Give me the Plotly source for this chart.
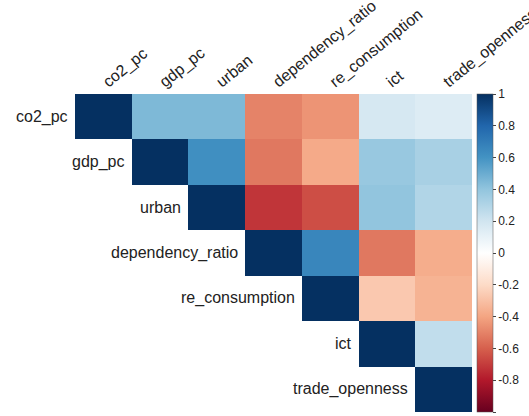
import plotly.graph_objects as go

variables = ["co2_pc", "gdp_pc", "urban", "dependency_ratio", "re_consumption", "ict", "trade_openness"]

# upper-triangle correlations (row i, columns i..6)
row_co2 = [1.00, 0.45, 0.45, -0.50, -0.45, 0.18, 0.15]
row_gdp = [1.00, 0.62, -0.53, -0.38, 0.38, 0.33]
row_urban = [1.00, -0.72, -0.65, 0.40, 0.30]
row_dep = [1.00, 0.66, -0.53, -0.37]
row_re = [1.00, -0.27, -0.35]
row_ict = [1.00, 0.25]
row_trade = [1.00]

rows = [row_co2, row_gdp, row_urban, row_dep, row_re, row_ict, row_trade]
n = len(variables)
z = []
for i, r in enumerate(rows):
    z.append([None] * i + r)

cb_colors = ["#67001F", "#B2182B", "#D6604D", "#F4A582", "#FDDBC7", "#FFFFFF",
             "#D1E5F0", "#92C5DE", "#4393C3", "#2166AC", "#053061"]
colorscale = [[k / (len(cb_colors) - 1), c] for k, c in enumerate(cb_colors)]
cb_ticks = [1, 0.8, 0.6, 0.4, 0.2, 0, -0.2, -0.4, -0.6, -0.8, -1]

fig = go.Figure(go.Heatmap(
    z=z, x=variables, y=variables,
    zmin=-1, zmax=1, colorscale=colorscale,
    xgap=0, ygap=0, hoverongaps=False,
    colorbar=dict(
        x=1.013, xanchor="left", xref="paper", xpad=0, ypad=0,
        y=1.0, yanchor="top", lenmode="fraction", len=1.0,
        thickness=16, outlinewidth=0.5, outlinecolor="#555",
        tickvals=cb_ticks, ticktext=[f"{t:g}" for t in cb_ticks],
        ticks="outside", ticklen=3, tickcolor="#444",
        tickfont=dict(family="Liberation Sans, Arial", size=12, color="#222"),
    ),
))

annotations = []
for i, v in enumerate(variables):
    annotations.append(dict(
        x=i - 0.5, y=v, xref="x", yref="y", text=v, showarrow=False,
        xanchor="right", yanchor="middle", xshift=-5,
        font=dict(family="Liberation Sans, Arial", size=16, color="#222"),
    ))

fig.update_layout(
    width=529, height=416,
    margin=dict(l=75, r=57, t=94, b=4),
    paper_bgcolor="white", plot_bgcolor="white",
    annotations=annotations,
    xaxis=dict(side="top", tickangle=-39, showgrid=False, zeroline=False,
               range=[-0.5, n - 0.5], ticks="", showline=False, automargin=False,
               tickfont=dict(family="Liberation Sans, Arial", size=16, color="#222")),
    yaxis=dict(autorange="reversed", showticklabels=False, showgrid=False,
               zeroline=False, ticks="", showline=False, automargin=False),
)

fig.write_html("out.html", config={"displayModeBar": False},
               post_script="document.body.style.margin='0';")
